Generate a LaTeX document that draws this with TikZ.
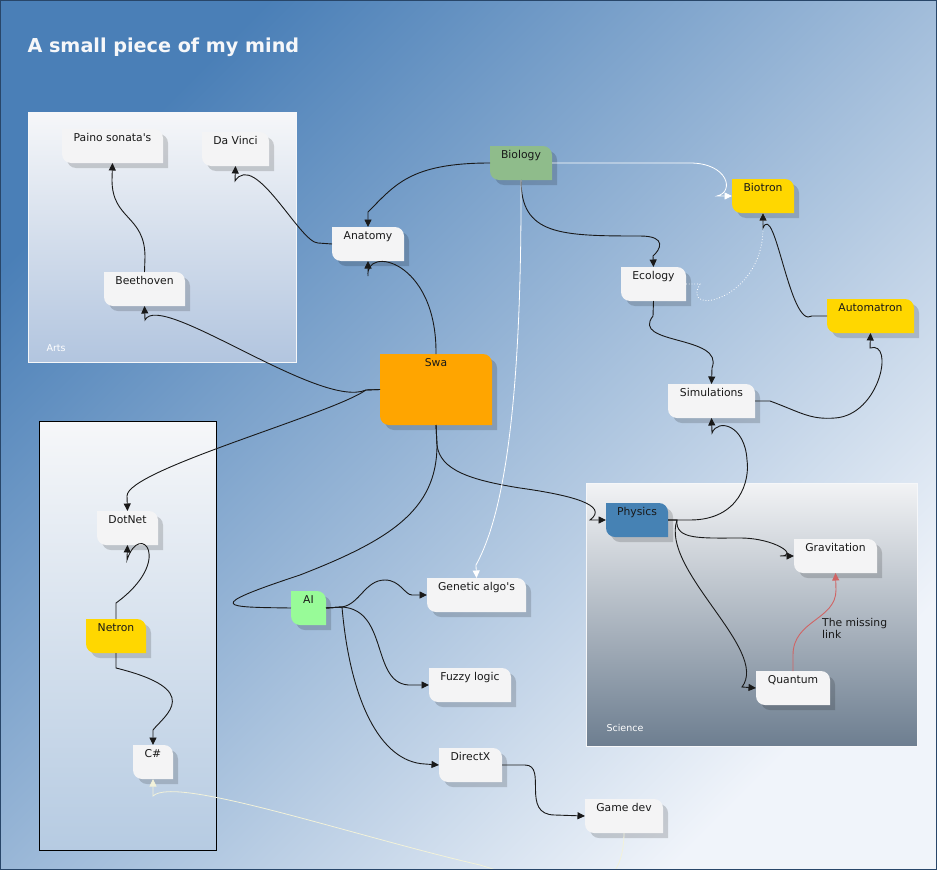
\documentclass[tikz,border=0pt]{standalone}
\usepackage{fontspec}
\setmainfont{DejaVu Sans}
\usetikzlibrary{arrows.meta,backgrounds}
\definecolor{ink}{RGB}{25,25,25}
\definecolor{paper}{RGB}{244,244,245}
\definecolor{skytop}{RGB}{74,127,183}
\definecolor{skybot}{RGB}{240,244,250}
\definecolor{grptop}{RGB}{246,247,249}
\definecolor{artsbot}{RGB}{178,197,223}
\definecolor{netbot}{RGB}{182,203,226}
\definecolor{scitop}{RGB}{242,243,245}
\definecolor{scibot}{RGB}{109,126,144}
\definecolor{bio}{RGB}{143,188,139}
\definecolor{swafill}{RGB}{255,165,0}
\definecolor{gold}{RGB}{255,215,0}
\definecolor{phys}{RGB}{70,130,180}
\definecolor{aigreen}{RGB}{152,251,152}
\definecolor{cream}{RGB}{242,242,218}
\definecolor{missing}{RGB}{208,100,100}
\definecolor{frame}{RGB}{40,70,105}
\newcommand\cardfont{\fontsize{10.8}{12.5}\selectfont}
% card outline: big radius top right and bottom left
\newcommand\cardshape[3]{%
  \fill[#3] ([shift={(#2,#2)}]#1.north west) [rounded corners=9pt] rectangle ([shift={(#2,#2)}]#1.south east)
    [sharp corners] ([shift={(#2,#2)}]#1.north west) rectangle ([shift={(#2+10,#2+10)}]#1.north west)
    ([shift={(#2,#2)}]#1.south east) rectangle ([shift={(#2-10,#2-10)}]#1.south east);}
\tikzset{
  card/.style={anchor=north west,inner xsep=2pt,inner ysep=4pt,outer sep=0pt,
    text height=8pt,text depth=18pt,font=\cardfont,text=ink},
  grplbl/.style={anchor=west,font=\fontsize{9.5}{11}\selectfont,text=white},
  link/.style={draw=ink,line width=0.9pt,-{Triangle[length=7.5pt,width=7pt]}},
  plain/.style={draw=ink,line width=0.9pt},
  wlink/.style={draw=white,line width=0.8pt,-{Triangle[length=7.5pt,width=7pt]}},
  dlink/.style={draw=white,line width=0.8pt,dotted,-{Triangle[length=7.5pt,width=7pt]}},
  clink/.style={draw=cream,line width=0.8pt,-{Triangle[length=7.5pt,width=7pt]}},
  rlink/.style={draw=missing,line width=0.9pt,-{Triangle[length=7.5pt,width=7pt]}},
}

\begin{document}
\begin{tikzpicture}[x=1pt,y=-1pt]
  \useasboundingbox (0,0) rectangle (937,870);
  \begin{scope}[on background layer]
    \shade[top color=skytop,bottom color=skybot,shading angle=45] (0,0) rectangle (937,870);
    \shadedraw[top color=grptop,bottom color=artsbot,draw=grptop] (28,112) rectangle (296,362);
    \shadedraw[top color=grptop,bottom color=netbot,draw=black,line width=0.8pt] (39,421) rectangle (216,850);
    \shadedraw[top color=scitop,bottom color=scibot,draw=grptop] (586,483) rectangle (917,746);
  \end{scope}

  \node[anchor=west,font=\bfseries\fontsize{19.2}{23}\selectfont,text=grptop] (title) at (24,47) {A small piece of my mind};
  \node[grplbl] (artslbl) at (43,348) {Arts};
  \node[grplbl] (scilbl) at (603,728) {Science};

  % arts
  \node[card,minimum width=101pt] (paino) at (62,129) {Paino sonata\textquotesingle s};
  \node[card,minimum width=67pt] (davinci) at (202,132) {Da Vinci};
  \node[card,minimum width=81pt] (beethoven) at (104,272) {Beethoven};
  \node[card,minimum width=72pt] (anatomy) at (332,227) {Anatomy};
  \node[card,minimum width=62pt] (biology) at (490,146) {Biology};
  \node[card,minimum width=112pt,text depth=55pt] (swa) at (380,354) {Swa};
  \node[card,minimum width=62pt] (biotron) at (732,179) {Biotron};
  \node[card,minimum width=65pt] (ecology) at (621,267) {Ecology};
  \node[card,minimum width=87pt] (automatron) at (827,299) {Automatron};
  \node[card,minimum width=87pt] (simulations) at (668,384) {Simulations};
  % dotnet column
  \node[card,minimum width=61pt] (dotnet) at (97,511) {DotNet};
  \node[card,minimum width=60pt] (netron) at (86,619) {Netron};
  \node[card,minimum width=40pt] (csharp) at (133,745) {C\#};
  % science
  \node[card,minimum width=62pt] (physics) at (606,503) {Physics};
  \node[card,minimum width=83pt] (gravitation) at (794,539) {Gravitation};
  \node[card,minimum width=74pt] (quantum) at (756,671) {Quantum};
  \node[anchor=north west,font=\cardfont,align=left,inner sep=0pt,text=ink] (missinglbl) at (822,618) {The missing\\link};
  % ai
  \node[card,minimum width=35pt] (ai) at (291,591) {AI};
  \node[card,minimum width=99pt] (genetic) at (427,578) {Genetic algo\textquotesingle s};
  \node[card,minimum width=82pt] (fuzzy) at (429,668) {Fuzzy logic};
  \node[card,minimum width=63pt] (directx) at (439,748) {DirectX};
  \node[card,minimum width=78pt] (gamedev) at (585,799) {Game dev};

  \begin{scope}[on background layer]
    \foreach \n/\c in {paino/paper,davinci/paper,beethoven/paper,anatomy/paper,biology/bio,
        swa/swafill,biotron/gold,ecology/paper,automatron/gold,simulations/paper,dotnet/paper,
        netron/gold,csharp/paper,physics/phys,gravitation/paper,quantum/paper,ai/aigreen,
        genetic/paper,fuzzy/paper,directx/paper,gamedev/paper}{
      \cardshape{\n}{5}{black,opacity=.16}
      \cardshape{\n}{0}{\c}
    }
  \end{scope}

  \draw[link] (swa.north) .. controls (437,260) and (365,245) .. (368,276) -- (anatomy.south);
  \draw[link] (biology.west) .. controls (410,163) and (395,185) .. (368,212) -- (anatomy.north);
  \draw[link] (anatomy.west) -- (318,243) .. controls (300,243) and (255,150) .. (235,181) -- (davinci.south);
  \draw[link] (beethoven.north) -- (145,257) .. controls (145,215) and (112,220) .. (112,180) -- (paino.south);
  \draw[link] (swa.west) -- (366,390) .. controls (320,410) and (160,290) .. (145,320) -- (beethoven.south);
  \draw[link] (swa.west) -- (366,390) .. controls (330,415) and (127,470) .. (127,496) -- (dotnet.north);
  \draw[link] (netron.north) -- (116,603) .. controls (175,560) and (140,520) .. (127,560) -- (dotnet.south);
  \draw[link] (netron.south) -- (116,668) .. controls (205,690) and (165,715) .. (153,730) -- (csharp.north);
  \draw[plain] (swa.south) -- (437,445) .. controls (437,510) and (390,540) .. (300,575)
    .. controls (200,608) and (225,607) .. (ai.west);
  \draw[link] (swa.south) -- (437,445) .. controls (440,470) and (470,480) .. (520,488)
    .. controls (570,495) and (610,505) .. (590,520) -- (physics.west);

  \draw[link] (biology.south) .. controls (521,235) and (560,236) .. (640,236)
    .. controls (668,236) and (660,250) .. (653,256) -- (ecology.north);
  \draw[wlink] (biology.east) -- (690,163) .. controls (728,163) and (735,192) .. (717,196) -- (biotron.west);
  \draw[wlink] (biology.south) .. controls (522,450) and (495,530) .. (476,565) -- (genetic.north);
  \draw[dlink] (ecology.east) -- (700,284) .. controls (680,318) and (763,300) .. (763,228) -- (biotron.south);
  \draw[link] (automatron.west) -- (812,316) .. controls (790,330) and (775,200) .. (763,228) -- (biotron.south);
  \draw[link] (ecology.south) -- (653,316) .. controls (630,345) and (725,335) .. (712,368) -- (simulations.north);
  \draw[link] (simulations.east) -- (770,401) .. controls (800,412) and (810,420) .. (835,418)
    .. controls (880,415) and (895,340) .. (870,348) -- (automatron.south);

  \draw[link] (physics.east) -- (690,520) .. controls (740,520) and (750,480) .. (747,460)
    .. controls (745,425) and (718,418) .. (712,433) -- (simulations.south);
  \draw[link] (physics.east) -- (677,520) .. controls (675,540) and (700,538) .. (740,538)
    .. controls (775,538) and (800,556) .. (780,556) -- (gravitation.west);
  \draw[link] (physics.east) -- (677,520) .. controls (660,570) and (770,650) .. (742,687) -- (quantum.west);
  \draw[rlink] (quantum.north) -- (793,655) .. controls (793,620) and (836,620) .. (836,590) -- (gravitation.south);

  \draw[link] (ai.east) -- (342,607) .. controls (360,604) and (365,580) .. (385,580)
    .. controls (400,580) and (405,595) .. (412,595) -- (genetic.west);
  \draw[link] (ai.east) -- (342,607) .. controls (390,610) and (370,687) .. (412,685) -- (fuzzy.west);
  \draw[link] (ai.east) -- (342,607) .. controls (350,700) and (380,762) .. (425,764) -- (directx.west);
  \draw[link] (directx.east) -- (525,765) .. controls (548,765) and (520,815) .. (555,815) -- (gamedev.west);
  \draw[clink] (gamedev.south) .. controls (623,910) and (560,890) .. (480,865)
    .. controls (350,835) and (175,775) .. (153,796) -- (csharp.south);

  \draw[frame,line width=1pt] (0.5,0.5) rectangle (936.5,869.5);
\end{tikzpicture}
\end{document}
